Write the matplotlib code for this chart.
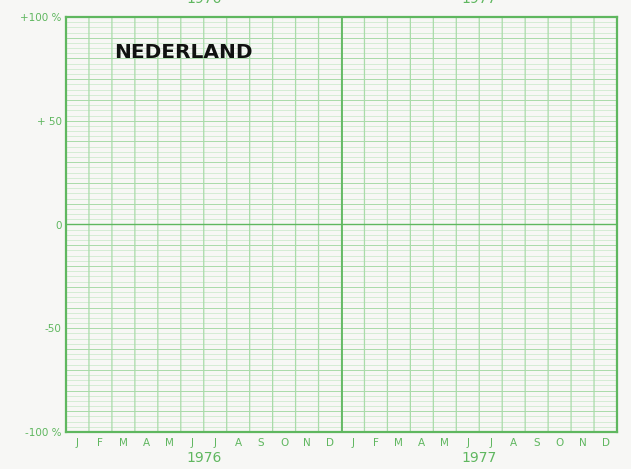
import numpy as np
import matplotlib
matplotlib.use("Agg")
from matplotlib import pyplot as plt

months = ["J", "F", "M", "A", "M", "J", "J", "A", "S", "O", "N", "D"]
years = ["1976", "1977"]
y_ticks = [100, 50, 0, -50, -100]
y_labels = ["+100 %", "+ 50", "0", "-50", "-100 %"]
title = "NEDERLAND"

green = "#5fb75f"
light = "#d4ecd4"
mid = "#a9dba9"
bg = "#f7f7f5"

fig = plt.figure(figsize=(6.31, 4.69), dpi=100, facecolor=bg)
ax = fig.add_axes([66 / 631, 1 - 432 / 469, 551 / 631, 415 / 469])
ax.set_facecolor(bg)
n = len(months) * len(years)
ax.set_xlim(0, n)
ax.set_ylim(-100, 100)

# horizontal grid
for y in np.arange(-97.5, 100, 2.5):
    c = mid if y % 10 == 0 else light
    ax.axhline(y, color=c, lw=0.7, zorder=1)
ax.axhline(0, color=green, lw=1.0, zorder=2)

# month grid
for x in range(1, n):
    ax.axvline(x, color=mid, lw=0.9, zorder=1, snap=False)
ax.axvline(len(months), color=green, lw=1.3, zorder=2)

for s in ax.spines.values():
    s.set_color(green)
    s.set_linewidth(1.6)

ax.set_xticks(np.arange(n) + 0.5)
ax.set_xticklabels(months * len(years), color=green, fontsize=7.5)
ax.set_yticks(y_ticks)
ax.set_yticklabels(y_labels, color=green, fontsize=7.5)
ax.tick_params(length=0, pad=4)
ax.tick_params(axis="y", pad=3)

for i, yr in enumerate(years):
    xc = (i + 0.5) * len(months)
    ax.text(xc, -112.5, yr, color=green, fontsize=10, ha="center", va="center")
    # cut-off year label of the chart above
    fig.text((66 + 551 * (xc / n)) / 631, 1 + 1 / 469, yr, color=green,
             fontsize=10, ha="center", va="center")

# cut-off label of the chart below
fig.text(63 / 631, -5 / 469, "+100 %", color=green, fontsize=7.5,
         ha="right", va="center")

ax.text(2.1, 83, title, fontsize=14.5, fontweight="bold", color="#111111",
        ha="left", va="center")

fig.savefig("out.png", dpi=100, facecolor=bg)
